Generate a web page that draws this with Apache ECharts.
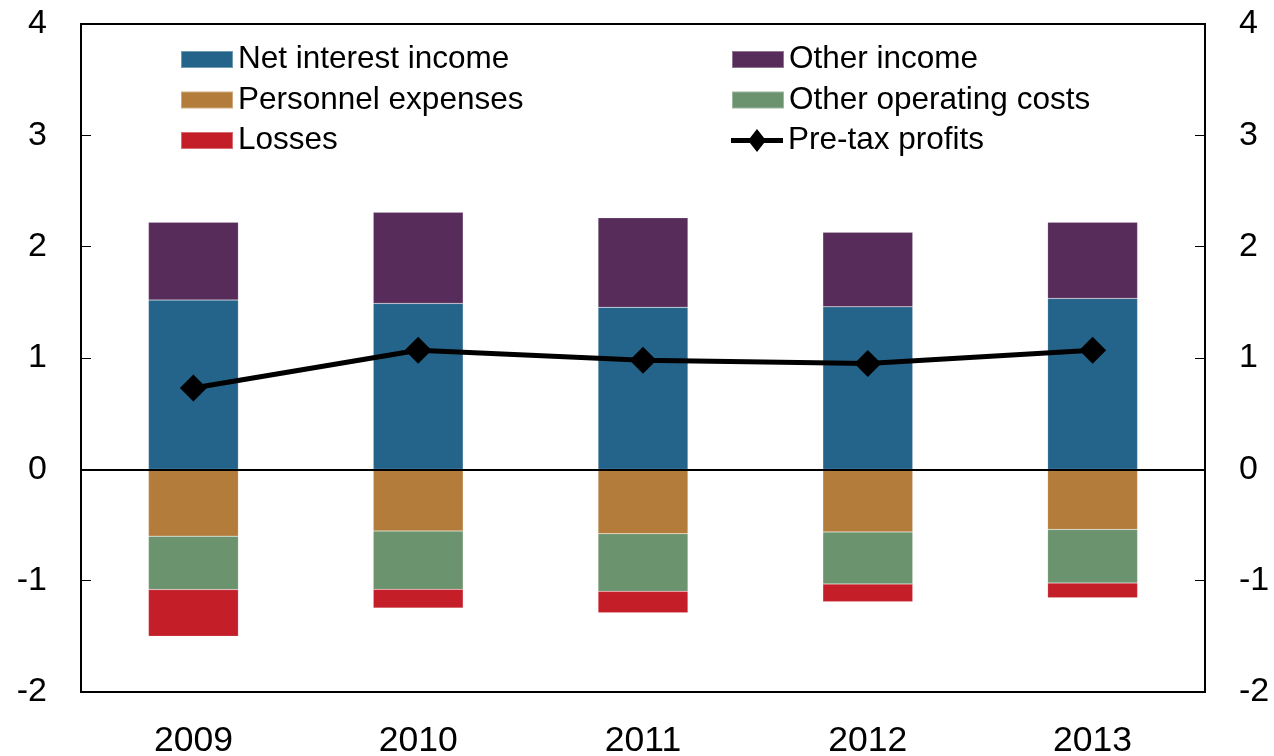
<!DOCTYPE html>
<html>
<head>
<meta charset="utf-8">
<script src="https://cdn.jsdelivr.net/npm/echarts@6/dist/echarts.min.js"></script>
<style>
html,body{margin:0;padding:0;background:#fff;}
#chart{width:1274px;height:756px;}
</style>
</head>
<body>
<div id="chart"></div>
<script>
const categories = ['2009', '2010', '2011', '2012', '2013'];
const netInterestIncome = [1.52, 1.49, 1.455, 1.46, 1.535];
const otherIncome = [0.70, 0.82, 0.805, 0.67, 0.685];
const personnelExpenses = [-0.60, -0.555, -0.578, -0.563, -0.54];
const otherOperatingCosts = [-0.48, -0.523, -0.518, -0.467, -0.482];
const losses = [-0.42, -0.168, -0.192, -0.159, -0.132];
const preTaxProfits = [0.73, 1.07, 0.98, 0.95, 1.07];
const yTicks = [-2, -1, 0, 1, 2, 3, 4];

const FONT = '"Liberation Sans", Arial, sans-serif';
const chart = echarts.init(document.getElementById('chart'));

function barSeries(name, data, color) {
  return {
    name: name, type: 'bar', stack: 'total', data: data,
    barWidth: '40%',
    itemStyle: { color: color, borderColor: 'rgba(255,255,255,0.35)', borderWidth: 0.5 },
    emphasis: { disabled: true },
    animation: false
  };
}

const legendText = { fontFamily: FONT, fontSize: 31.5, color: '#000', lineHeight: 31 };
const lineIcon = 'path://M0,10H52V15H0Z M26,1L35,12.5L26,24L17,12.5Z';

const option = {
  backgroundColor: '#fff',
  animation: false,
  grid: { left: 81, right: 69, top: 24, bottom: 64, show: true, borderColor: '#000', borderWidth: 2,
          containLabel: false, outerBoundsMode: 'none' },
  legend: [
    {
      orient: 'vertical', left: 180, top: 43.5, padding: 0, itemGap: 8.5,
      itemWidth: 52, itemHeight: 17, icon: 'rect', textStyle: legendText,
      data: ['Net interest income', 'Personnel expenses', 'Losses']
    },
    {
      orient: 'vertical', left: 731, top: 43.5, padding: 0, itemGap: 8.5,
      itemWidth: 52, itemHeight: 17, icon: 'rect', textStyle: legendText,
      data: ['Other income', 'Other operating costs']
    },
    {
      orient: 'vertical', left: 731, top: 124.5, padding: 0, itemGap: 8.5,
      itemWidth: 52, itemHeight: 25, textStyle: legendText,
      data: [{ name: 'Pre-tax profits', icon: lineIcon, itemStyle: { color: '#000', borderWidth: 0 } }]
    }
  ],
  xAxis: {
    type: 'category', data: categories,
    axisLine: { show: false, onZero: false },
    axisTick: { show: false },
    axisLabel: { fontFamily: FONT, fontSize: 35.5, color: '#000', margin: 31 }
  },
  yAxis: [
    {
      type: 'value', min: -2, max: 4, interval: 1, position: 'left',
      axisLine: { show: true, lineStyle: { color: '#000', width: 2 } },
      axisTick: { show: true, inside: true, length: 10, lineStyle: { color: '#000', width: 1 } },
      axisLabel: { fontFamily: FONT, fontSize: 34, color: '#000', margin: 34,
        formatter: v => yTicks.includes(v) ? String(v) : '' },
      splitLine: { show: false }
    },
    {
      type: 'value', min: -2, max: 4, interval: 1, position: 'right',
      axisLine: { show: true, lineStyle: { color: '#000', width: 2 } },
      axisTick: { show: true, inside: true, length: 10, lineStyle: { color: '#000', width: 1 } },
      axisLabel: { fontFamily: FONT, fontSize: 34, color: '#000', margin: 34,
        formatter: v => yTicks.includes(v) ? String(v) : '' },
      splitLine: { show: false }
    }
  ],
  series: [
    barSeries('Net interest income', netInterestIncome, '#25648A'),
    barSeries('Other income', otherIncome, '#582C5A'),
    barSeries('Personnel expenses', personnelExpenses, '#B37C3A'),
    barSeries('Other operating costs', otherOperatingCosts, '#6A936E'),
    Object.assign(barSeries('Losses', losses, '#C41E29'), {
      markLine: {
        silent: true, symbol: 'none', label: { show: false },
        lineStyle: { color: '#000', width: 2, type: 'solid' },
        data: [{ yAxis: 0 }]
      }
    }),
    {
      name: 'Pre-tax profits', type: 'line', data: preTaxProfits,
      symbol: 'diamond', symbolSize: 27,
      lineStyle: { color: '#000', width: 5 },
      itemStyle: { color: '#000' },
      emphasis: { disabled: true },
      z: 10
    }
  ]
};
chart.setOption(option);
</script>
</body>
</html>
